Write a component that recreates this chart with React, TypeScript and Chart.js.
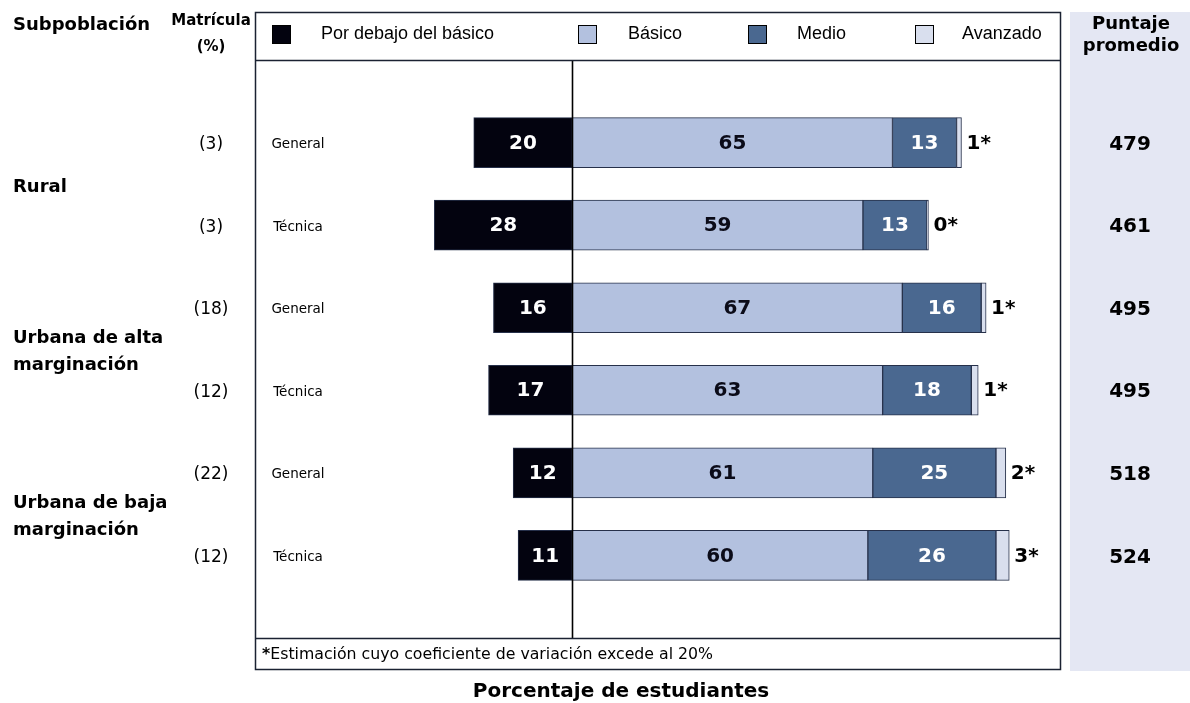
import React, { useEffect, useRef } from 'react';
import { Chart, registerables } from 'chart.js';

Chart.register(...registerables);

// ---------- data ----------
const rowTypes = ['General', 'Técnica', 'General', 'Técnica', 'General', 'Técnica'];
const enrollment = ['(3)', '(3)', '(18)', '(12)', '(22)', '(12)'];
const subpopulations = [['Rural'], ['Urbana de alta', 'marginación'], ['Urbana de baja', 'marginación']];
const subpopulationRows = [[0, 1], [2, 3], [4, 5]];
const belowBasic = [20, 28, 16, 17, 12, 11];
const basic = [65, 59, 67, 63, 61, 60];
const medium = [13, 13, 16, 18, 25, 26];
const advanced = [1, 0.3, 1, 1.4, 2, 2.7];
const avgScore = ['479', '461', '495', '495', '518', '524'];
const levelNames = ['Por debajo del básico', 'Básico', 'Medio', 'Avanzado'];
const levelColors = ['#03030f', '#b3c1df', '#4a6890', '#d9dfee'];
const labelColors = ['#ffffff', '#0b0b18', '#ffffff', '#000000'];
const footnote = 'Estimación cuyo coeficiente de variación excede al 20%';
const axisTitle = 'Porcentaje de estudiantes';

const FONT = "'DejaVu Sans', Verdana, sans-serif";

const decor = {
  id: 'decor',
  beforeDraw(chart: any) {
    const { ctx, chartArea } = chart;
    ctx.save();
    ctx.fillStyle = '#ffffff';
    ctx.fillRect(0, 0, chart.width, chart.height);
    ctx.fillStyle = '#e4e7f3';
    ctx.fillRect(chartArea.right + 10, 12, chart.width - chartArea.right - 10, 659);
    ctx.restore();
  },
  afterDatasetsDraw(chart: any) {
    const { ctx, chartArea } = chart;
    const xs = chart.scales.x;
    ctx.save();
    // zero line
    const x0 = Math.round(xs.getPixelForValue(0)) + 0.5;
    ctx.strokeStyle = '#000000';
    ctx.lineWidth = 1.6;
    ctx.beginPath();
    ctx.moveTo(x0, chartArea.top);
    ctx.lineTo(x0, chartArea.bottom);
    ctx.stroke();
    // value labels
    ctx.textBaseline = 'middle';
    chart.data.datasets.forEach((ds: any, di: number) => {
      const meta = chart.getDatasetMeta(di);
      meta.data.forEach((el: any, i: number) => {
        const p = el.getProps(['x', 'base', 'y'], true);
        const raw = Math.abs(ds.data[i].x);
        const txt = String(Math.round(raw));
        ctx.fillStyle = labelColors[di];
        ctx.font = `bold 20px ${FONT}`;
        if (di === 3) {
          ctx.textAlign = 'left';
          ctx.fillText(txt + '*', Math.max(p.x, p.base) + 5, p.y + 1);
        } else {
          ctx.textAlign = 'center';
          ctx.fillText(txt, (p.x + p.base) / 2, p.y + 1);
        }
      });
    });
    ctx.restore();
  },
  afterDraw(chart: any) {
    const { ctx, chartArea } = chart;
    const ys = chart.scales.y;
    const L = chartArea.left, R = chartArea.right, T = chartArea.top, B = chartArea.bottom;
    const top = 12, bottom = 669;
    ctx.save();
    // frame
    ctx.strokeStyle = '#1b2232';
    ctx.lineWidth = 1.5;
    ctx.strokeRect(L + 0.5, top + 0.5, R - L, bottom - top);
    ctx.beginPath();
    ctx.moveTo(L, T + 0.5); ctx.lineTo(R, T + 0.5);
    ctx.moveTo(L, B + 0.5); ctx.lineTo(R, B + 0.5);
    ctx.stroke();

    // legend
    const legendX = [272, 578, 748, 915];
    const legendTextX = [321, 628, 797, 962];
    ctx.textBaseline = 'middle';
    ctx.textAlign = 'left';
    ctx.font = "18px 'Liberation Sans', Arial, sans-serif";
    levelNames.forEach((name, i) => {
      ctx.fillStyle = levelColors[i];
      ctx.fillRect(legendX[i], 25, 18, 18);
      ctx.strokeStyle = '#000000';
      ctx.lineWidth = 1;
      ctx.strokeRect(legendX[i] + 0.5, 25.5, 18, 18);
      ctx.fillStyle = '#000000';
      ctx.fillText(name, legendTextX[i], 34);
    });

    // footnote
    ctx.font = `bold 15.75px ${FONT}`;
    ctx.fillStyle = '#000000';
    ctx.fillText('*', L + 7, 655);
    const sw = ctx.measureText('*').width;
    ctx.font = `15.75px ${FONT}`;
    ctx.fillText(footnote, L + 7 + sw, 655);

    // axis title
    ctx.font = `bold 20px ${FONT}`;
    ctx.textAlign = 'center';
    ctx.fillText(axisTitle, 621, 692);

    // left headers
    ctx.textAlign = 'left';
    ctx.font = `bold 18px ${FONT}`;
    ctx.fillText('Subpoblación', 13, 25);
    ctx.textAlign = 'center';
    ctx.font = `bold 15px ${FONT}`;
    ctx.fillText('Matrícula', 211, 21);
    ctx.fillText('(%)', 211, 47);

    // subpopulation labels
    ctx.textAlign = 'left';
    ctx.font = `bold 18px ${FONT}`;
    subpopulations.forEach((lines, g) => {
      const rows = subpopulationRows[g];
      const cy = (ys.getPixelForValue(rows[0]) + ys.getPixelForValue(rows[1])) / 2 + 3;
      const lh = 27;
      lines.forEach((ln, k) => {
        ctx.fillText(ln, 13, cy + (k - (lines.length - 1) / 2) * lh);
      });
    });

    // per-row labels
    rowTypes.forEach((t, i) => {
      const y = ys.getPixelForValue(i) + 2;
      ctx.textAlign = 'center';
      ctx.fillStyle = '#000000';
      ctx.font = `17px ${FONT}`;
      ctx.fillText(enrollment[i], 211, y);
      ctx.font = `13.5px ${FONT}`;
      ctx.fillText(t, 298, y);
      ctx.font = `bold 20px ${FONT}`;
      ctx.fillText(avgScore[i], 1130, y);
    });

    // right header
    ctx.font = `bold 18px ${FONT}`;
    ctx.fillText('Puntaje', 1131, 24);
    ctx.fillText('promedio', 1131, 46);
    ctx.restore();
  },
};

export default function App() {
  const ref = useRef<HTMLCanvasElement | null>(null);

  useEffect(() => {
    const prevMargin = document.body.style.margin;
    document.body.style.margin = '0';
    const canvas = ref.current!;
    const series = [belowBasic.map((v) => -v), basic, medium, advanced];
    const chart = new Chart(canvas, {
      type: 'bar',
      data: {
        datasets: series.map((vals, di) => ({
          label: levelNames[di],
          data: vals.map((v, i) => ({ x: v, y: i })),
          backgroundColor: levelColors[di],
          borderColor: '#26304a',
          borderWidth: 1,
          borderSkipped: false,
          barThickness: 50,
        })),
      },
      options: {
        indexAxis: 'y',
        animation: false,
        responsive: false,
        devicePixelRatio: 1,
        layout: { padding: { left: 255, right: 130, top: 60, bottom: 65 } },
        plugins: { legend: { display: false }, tooltip: { enabled: false } },
        scales: {
          x: { type: 'linear', min: -64.4, max: 99, stacked: true, display: false },
          y: { type: 'linear', min: -1, max: 6, reverse: true, stacked: true, offset: false, display: false },
        },
      } as any,
      plugins: [decor],
    });
    return () => {
      chart.destroy();
      document.body.style.margin = prevMargin;
    };
  }, []);

  return (
    <div style={{ position: 'absolute', left: 0, top: 0, width: 1190, height: 703 }}>
      <canvas ref={ref} width={1190} height={703} style={{ display: 'block', width: 1190, height: 703 }} />
    </div>
  );
}
